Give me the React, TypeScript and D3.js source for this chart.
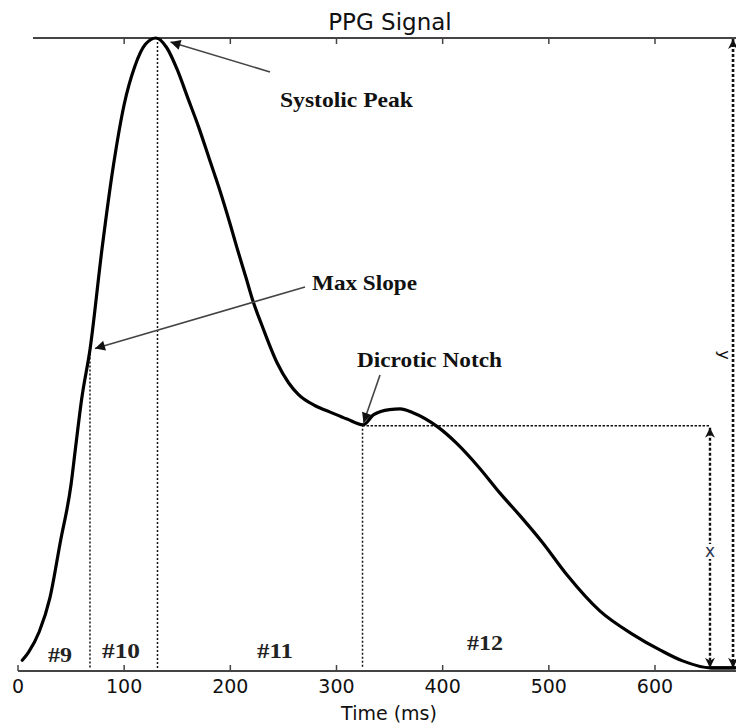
import React from "react";
import * as d3 from "d3";

// PPG waveform samples (time in ms, normalised amplitude)
const time = [4, 10, 20, 30, 40, 50, 54, 60, 68, 79, 90, 100, 110, 120, 130, 140, 150, 160, 170, 180, 190, 200, 206, 215, 221, 230, 244, 255, 264, 280, 294, 310, 325, 335, 350, 360, 372, 395, 413, 434, 454, 473, 494, 517, 548, 579, 605, 626, 652, 675];
const amplitude = [0.017, 0.03, 0.062, 0.115, 0.205, 0.295, 0.35, 0.43, 0.51, 0.665, 0.8, 0.895, 0.955, 0.99, 1.0, 0.985, 0.95, 0.905, 0.86, 0.81, 0.76, 0.705, 0.67, 0.62, 0.586, 0.545, 0.487, 0.455, 0.437, 0.419, 0.409, 0.398, 0.389, 0.405, 0.413, 0.414, 0.408, 0.386, 0.36, 0.322, 0.281, 0.245, 0.203, 0.152, 0.095, 0.058, 0.033, 0.016, 0.005, 0.005];

const xTicks = [0, 100, 200, 300, 400, 500, 600];

// key points
const maxSlope = { t: 67.8, v: 0.508 };
const peak = { t: 131.4, v: 1.0 };
const notch = { t: 324.5, v: 0.389 };
const xArrowT = 651.8;
const yArrowT = 673.5;
const baseV = 0.005;

const regionLabels = ["#9", "#10", "#11", "#12"];

export default function App() {
  const W = 736, H = 727;
  const x = d3.scaleLinear().domain([0, 600]).range([18, 655]);
  const y = d3.scaleLinear().domain([0, 1]).range([671, 38]);
  const pts = time.map((t, i) => [t, amplitude[i]] as [number, number]);
  const line = d3
    .line<[number, number]>()
    .x((d) => x(d[0]))
    .y((d) => y(d[1]))
    .curve(d3.curveMonotoneX);

  const serif = "'Liberation Serif', 'DejaVu Serif', serif";
  const sans = "'DejaVu Sans', sans-serif";

  const regionPos = [
    { x: 60, y: 662, w: 24 },
    { x: 121, y: 658, w: 38 },
    { x: 275, y: 658, w: 36 },
    { x: 485, y: 650, w: 36 },
  ];

  return (
    <svg width={W} height={H} style={{ position: "absolute", left: 0, top: 0, background: "#fff" }}>
      <defs>
        <marker id="ah" viewBox="0 0 10 10" refX="10" refY="5" markerWidth="14" markerHeight="10" markerUnits="userSpaceOnUse" orient="auto-start-reverse">
          <path d="M0,0 L10,5 L0,10 z" fill="#111" />
        </marker>
        <marker id="ah2" viewBox="0 0 10 10" refX="10" refY="5" markerWidth="12" markerHeight="10" markerUnits="userSpaceOnUse" orient="auto-start-reverse">
          <path d="M0,0 L10,5 L0,10 L3,5 z" fill="#111" />
        </marker>
      </defs>
      <rect width={W} height={H} fill="#fff" />

      {/* title */}
      <text x={390} y={30} textAnchor="middle" fontFamily={sans} fontSize={23} fill="#111">PPG Signal</text>

      {/* top spine */}
      <line x1={33} x2={736} y1={38} y2={38} stroke="#444" strokeWidth={2} />
      {xTicks.filter((t) => t > 0).map((t) => (
        <line key={"tt" + t} x1={x(t)} x2={x(t)} y1={38} y2={44} stroke="#444" strokeWidth={1.5} />
      ))}

      {/* bottom axis */}
      <line x1={18} x2={736} y1={671} y2={671} stroke="#444" strokeWidth={2} />
      {xTicks.map((t) => (
        <g key={"bt" + t}>
          <line x1={x(t)} x2={x(t)} y1={671} y2={665} stroke="#444" strokeWidth={1.5} />
          <text x={x(t)} y={693} textAnchor="middle" fontFamily={sans} fontSize={19} fill="#111">{t}</text>
        </g>
      ))}
      <text x={389} y={720} textAnchor="middle" fontFamily={sans} fontSize={19} fill="#111">Time (ms)</text>

      {/* vertical dotted guides */}
      <line x1={x(maxSlope.t)} x2={x(maxSlope.t)} y1={y(maxSlope.v)} y2={668} stroke="#111" strokeWidth={1.5} strokeDasharray="2,2" />
      <line x1={x(peak.t)} x2={x(peak.t)} y1={y(peak.v)} y2={668} stroke="#111" strokeWidth={1.5} strokeDasharray="2,2" />
      <line x1={x(notch.t)} x2={x(notch.t)} y1={y(notch.v)} y2={668} stroke="#111" strokeWidth={1.5} strokeDasharray="2,2" />
      {/* horizontal dotted from notch */}
      <line x1={x(notch.t)} x2={x(xArrowT)} y1={y(notch.v) + 1} y2={y(notch.v) + 1} stroke="#111" strokeWidth={1.7} strokeDasharray="2.5,1.5" />

      {/* x arrow */}
      <line x1={x(xArrowT)} x2={x(xArrowT)} y1={y(notch.v) + 3} y2={y(baseV)} stroke="#111" strokeWidth={2.4} strokeDasharray="3,2" markerStart="url(#ah2)" markerEnd="url(#ah2)" />
      {/* y arrow */}
      <line x1={x(yArrowT)} x2={x(yArrowT)} y1={y(peak.v) + 1} y2={y(baseV)} stroke="#111" strokeWidth={2.6} strokeDasharray="3,2" markerStart="url(#ah2)" markerEnd="url(#ah2)" />

      {/* signal */}
      <path d={line(pts) ?? ""} fill="none" stroke="#000" strokeWidth={3.2} strokeLinejoin="round" strokeLinecap="round" />
      <line x1={x(652)} x2={736} y1={y(baseV)} y2={y(baseV)} stroke="#000" strokeWidth={3} />

      {/* labels x / y */}
      <rect x={703} y={544} width={14} height={15} fill="#fff" />
      <text x={x(xArrowT)} y={557} textAnchor="middle" fontFamily={sans} fontSize={17} fill="#2a3550">x</text>
      <text x={0} y={0} transform={`translate(${x(yArrowT) - 14},355) rotate(90)`} textAnchor="middle" fontFamily={sans} fontSize={16} fill="#111">y</text>

      {/* annotations */}
      <line x1={270} y1={72} x2={x(peak.t) + 13} y2={42} stroke="#444" strokeWidth={1.6} markerEnd="url(#ah)" />
      <text x={280} y={107} fontFamily={serif} fontWeight="bold" fontSize={21} textLength={133} lengthAdjust="spacingAndGlyphs" fill="#111">Systolic Peak</text>

      <line x1={305} y1={287} x2={x(maxSlope.t) + 5} y2={y(maxSlope.v) - 1} stroke="#444" strokeWidth={1.6} markerEnd="url(#ah)" />
      <text x={312} y={290} fontFamily={serif} fontWeight="bold" fontSize={21} textLength={105} lengthAdjust="spacingAndGlyphs" fill="#111">Max Slope</text>

      <line x1={380} y1={375} x2={x(notch.t) + 1} y2={y(notch.v) - 2} stroke="#444" strokeWidth={1.6} markerEnd="url(#ah)" />
      <text x={357} y={367} fontFamily={serif} fontWeight="bold" fontSize={20} textLength={145} lengthAdjust="spacingAndGlyphs" fill="#111">Dicrotic Notch</text>

      {regionLabels.map((lab, i) => (
        <text key={lab} x={regionPos[i].x} y={regionPos[i].y} textAnchor="middle" fontFamily={serif} fontWeight="bold" fontSize={20} textLength={regionPos[i].w} lengthAdjust="spacingAndGlyphs" fill="#222">{lab}</text>
      ))}
    </svg>
  );
}
